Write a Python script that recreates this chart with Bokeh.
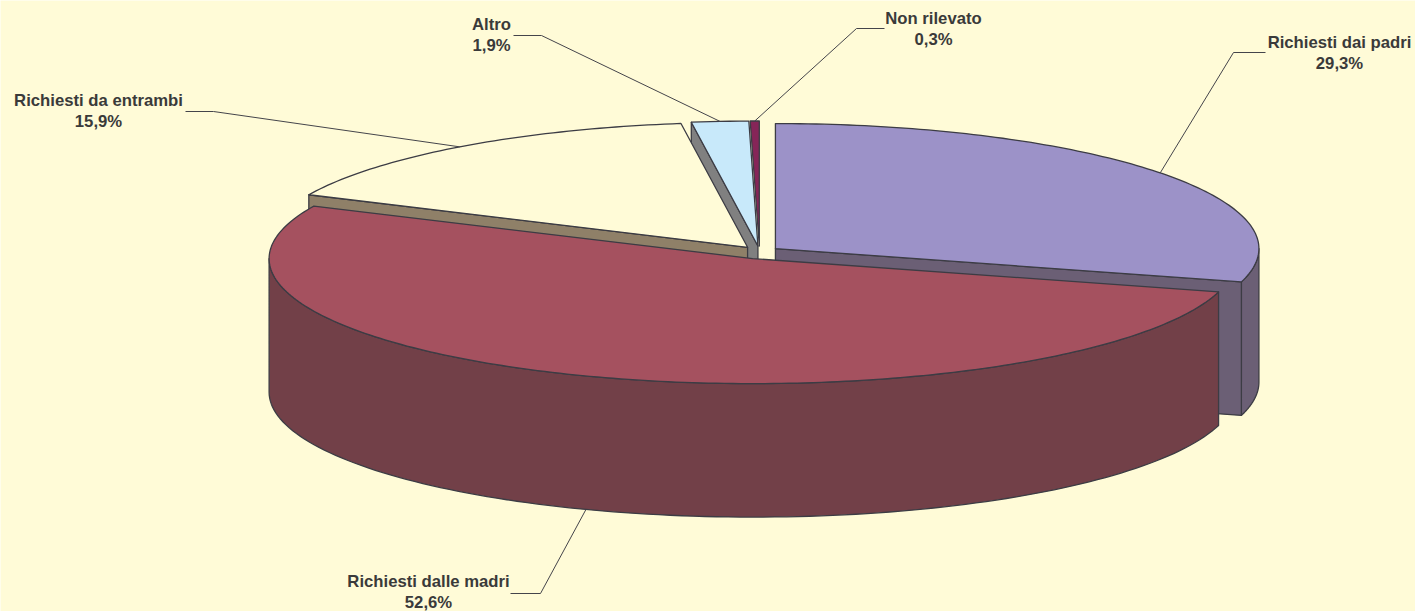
import numpy as np
from bokeh.embed import file_html
from bokeh.resources import INLINE
from bokeh.plotting import figure
from bokeh.models import Range1d
from bokeh.core.properties import value

# data (clockwise from 12 o'clock)
labels = ["Richiesti dai padri", "Richiesti dalle madri", "Richiesti da entrambi", "Altro", "Non rilevato"]
shares = [29.3, 52.6, 15.9, 1.9, 0.3]
pct_labels = ["29,3%", "52,6%", "15,9%", "1,9%", "0,3%"]

# styles
BG = "#FFFBD7"
EDGE = "#3C3C44"
top_col = ["#9C92C8", "#A5515F", "#FFFBD7", "#C8E9FA", "#862558"]
side_col = ["#6B5F75", "#724048", "#8F8068", "#808080", "#5A1A3C"]

# geometry of the projected pie
CX, CY, RX, RY, DEPTH, EX, EY = 759.0, 252.0, 483.5, 125.0, 133.5, 20.0, 6.5

fr = np.cumsum([0] + shares) / sum(shares) * 2 * np.pi
starts, ends = fr[:-1], fr[1:]
mids = (starts + ends) / 2
centers = [(CX + EX * np.sin(m), CY - EY * np.cos(m)) for m in mids]


def rim(i, t):
    cx, cy = centers[i]
    return cx + RX * np.sin(t), cy - RY * np.cos(t)


W, H = 1415, 611
p = figure(width=W, height=H, output_backend="svg", toolbar_location=None,
           x_range=Range1d(0, W), y_range=Range1d(H, 0), min_border=0,
           background_fill_color=BG, border_fill_color=BG, outline_line_color=None)
p.axis.visible = False
p.grid.visible = False


def poly(xs, ys, color):
    p.patch(list(xs), list(ys), fill_color=color, line_color=EDGE, line_width=1.3, line_join="round")


def top(i):
    t = np.linspace(starts[i], ends[i], max(4, int((ends[i] - starts[i]) * 60)))
    x, y = rim(i, t)
    cx, cy = centers[i]
    poly(np.r_[cx, x], np.r_[cy, y], top_col[i])


def radial_wall(i, t):
    cx, cy = centers[i]
    x, y = rim(i, t)
    poly([cx, x, x, cx], [cy, y, y + DEPTH, cy + DEPTH], side_col[i])


def outer_wall(i, a, b):
    t = np.linspace(a, b, 120)
    x, y = rim(i, t)
    poly(np.r_[x, x[::-1]], np.r_[y, y[::-1] + DEPTH], side_col[i])


# back to front
radial_wall(3, starts[3])
top(4)
top(3)
outer_wall(0, np.pi / 2, ends[0])
radial_wall(0, ends[0])
top(0)
radial_wall(2, starts[2])
top(2)
outer_wall(1, starts[1], 1.5 * np.pi)
top(1)

# leader lines: from the rim at the middle of each slice to an elbow beside the label
elbows = [((1233, 52), (1265, 52)), ((540, 593), (510, 593)), ((213, 111), (185, 111)),
          ((541, 35), (513, 35)), ((856, 28), (884, 28))]
for i, (e1, e2) in enumerate(elbows):
    x, y = rim(i, mids[i])
    if i == 1:
        y += DEPTH
    p.line([x, e1[0], e2[0]], [y, e1[1], e2[1]], line_color="#44444A", line_width=1)

# labels
text_pos = [(1339, 42, 63), (428, 581, 601.5), (98, 100, 121), (491, 24, 45), (933, 18, 39)]
for i, (x, y1, y2) in enumerate(text_pos):
    p.text([x, x], [y1, y2], text=[labels[i], pct_labels[i]], text_align="center", text_baseline="middle",
           text_font=value("Liberation Sans"), text_font_style="bold", text_font_size="16.7px", text_color="#3A3A3A")

open("out.html", "w").write(file_html(p, INLINE))
